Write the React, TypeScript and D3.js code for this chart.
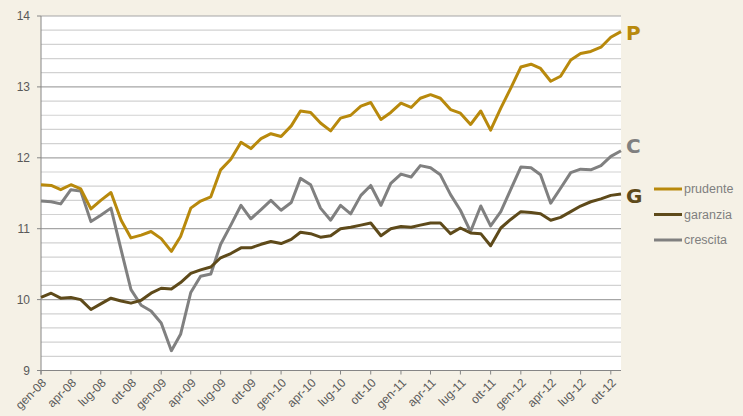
import React from 'react';
import * as d3 from 'd3';

// monthly values, gen-08 .. nov-12
const prudente = [
  11.62, 11.61, 11.55, 11.62, 11.56, 11.28, 11.40, 11.51, 11.12, 10.87,
  10.91, 10.96, 10.86, 10.68, 10.89, 11.29, 11.39, 11.45, 11.83, 11.98,
  12.22, 12.13, 12.27, 12.34, 12.30, 12.45, 12.66, 12.64, 12.49, 12.38,
  12.56, 12.60, 12.73, 12.78, 12.54, 12.64, 12.77, 12.71, 12.84, 12.89,
  12.84, 12.68, 12.63, 12.47, 12.66, 12.39, 12.70, 12.98, 13.28, 13.32,
  13.26, 13.08, 13.15, 13.38, 13.47, 13.50, 13.56, 13.70, 13.78,
];
const garanzia = [
  10.03, 10.09, 10.02, 10.03, 10.00, 9.86, 9.94, 10.02, 9.98, 9.95,
  9.99, 10.09, 10.16, 10.15, 10.24, 10.37, 10.42, 10.46, 10.59, 10.65,
  10.73, 10.73, 10.78, 10.82, 10.79, 10.85, 10.95, 10.93, 10.88, 10.90,
  11.00, 11.02, 11.05, 11.08, 10.90, 11.00, 11.03, 11.02, 11.05, 11.08,
  11.08, 10.93, 11.01, 10.94, 10.93, 10.76, 11.01, 11.13, 11.24, 11.23,
  11.21, 11.12, 11.16, 11.24, 11.32, 11.38, 11.42, 11.47, 11.49,
];
const crescita = [
  11.39, 11.38, 11.35, 11.55, 11.53, 11.10, 11.19, 11.29, 10.70, 10.14,
  9.92, 9.84, 9.67, 9.28, 9.51, 10.10, 10.33, 10.36, 10.78, 11.05,
  11.33, 11.14, 11.27, 11.40, 11.26, 11.37, 11.71, 11.62, 11.29, 11.12,
  11.33, 11.21, 11.47, 11.61, 11.33, 11.64, 11.77, 11.73, 11.89, 11.86,
  11.76, 11.48, 11.26, 10.96, 11.32, 11.04, 11.24, 11.55, 11.87, 11.86,
  11.76, 11.36, 11.57, 11.79, 11.84, 11.83, 11.89, 12.02, 12.10,
];
const monthNames = ['gen', 'feb', 'mar', 'apr', 'mag', 'giu', 'lug', 'ago', 'set', 'ott', 'nov', 'dic'];
const yTicks = [9, 10, 11, 12, 13, 14];

const months = prudente.map((_, i) => new Date(2008, i, 1));
const fmt = (d: Date) => `${monthNames[d.getMonth()]}-${String(d.getFullYear()).slice(2)}`;

const series = [
  { name: 'prudente', values: prudente, color: '#b8890c', letter: 'P', shift: 1 },
  { name: 'garanzia', values: garanzia, color: '#5e4a1a', letter: 'G', shift: 2 },
  { name: 'crescita', values: crescita, color: '#808080', letter: 'C', shift: -5 },
];

const W = 743;
const H = 416;
const margin = { top: 16, right: 122, bottom: 45.5, left: 41 };

export default function App() {
  const x = d3.scaleTime()
    .domain([months[0], months[months.length - 1]])
    .range([margin.left, W - margin.right]);
  const y = d3.scaleLinear().domain([9, 14]).range([H - margin.bottom, margin.top]);

  const line = d3.line<number>()
    .x((_, i) => x(months[i]))
    .y(d => y(d));

  const grid = d3.range(9, 14.001, 0.2);
  const xTicks = months.filter((_, i) => i % 3 === 0);
  const font = "'Liberation Sans', Arial, sans-serif";

  return (
    <svg width={W} height={H} style={{ position: 'absolute', left: 0, top: 0, background: '#f5f1e6' }}
      fontFamily={font}>
      <rect x={margin.left} y={margin.top} width={W - margin.right - margin.left}
        height={H - margin.bottom - margin.top} fill="#fff" />
      {grid.map((g, i) => (
        <line key={i} x1={margin.left} x2={W - margin.right} y1={y(g)} y2={y(g)}
          stroke={i % 5 === 0 ? '#a6a6a6' : '#d2d2d2'} strokeWidth={1.2} />
      ))}
      <line x1={margin.left} x2={margin.left} y1={margin.top} y2={H - margin.bottom + 4} stroke="#868686" />
      <line x1={margin.left} x2={W - margin.right} y1={H - margin.bottom} y2={H - margin.bottom} stroke="#868686" />
      {yTicks.map(t => (
        <g key={t}>
          <line x1={margin.left - 4} x2={margin.left} y1={y(t)} y2={y(t)} stroke="#868686" />
          <text x={margin.left - 11} y={y(t)} dy="0.35em" textAnchor="end" fontSize={12} fill="#595959">{t}</text>
        </g>
      ))}
      {xTicks.map((d, i) => (
        <g key={i} transform={`translate(${x(d)},${H - margin.bottom})`}>
          <line y1={0} y2={4} stroke="#868686" />
          <text transform="translate(3,10) rotate(-45)" textAnchor="end" dy="0.35em" fontSize={12} fill="#595959">{fmt(d)}</text>
        </g>
      ))}
      {series.slice().reverse().map(s => (
        <path key={s.name} d={line(s.values) || ''} fill="none" stroke={s.color} strokeWidth={3}
          strokeLinejoin="round" />
      ))}
      {series.map(s => (
        <text key={s.letter} x={W - margin.right + 5} y={y(s.values[s.values.length - 1]) + s.shift} dy="0.36em"
          fontSize={20} fontWeight="bold" fill={s.color} fontFamily="'DejaVu Sans', sans-serif">{s.letter}</text>
      ))}
      <g transform="translate(654,189)">
        {['prudente', 'garanzia', 'crescita'].map((n, i) => {
          const s = series.find(v => v.name === n)!;
          return (
            <g key={n} transform={`translate(0,${i * 25.5})`}>
              <line x1={0} x2={28} stroke={s.color} strokeWidth={3} />
              <text x={30} dy="0.35em" fontSize={12.5} fill="#7f7f7f">{n}</text>
            </g>
          );
        })}
      </g>
    </svg>
  );
}
